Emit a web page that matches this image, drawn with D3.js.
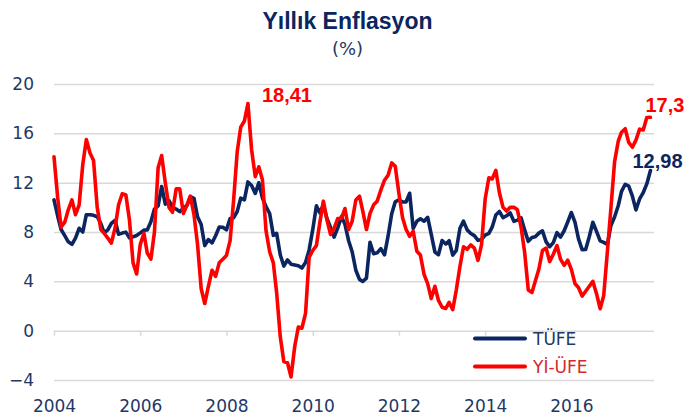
<!doctype html>
<html lang="tr">
<head>
<meta charset="utf-8">
<title>Yıllık Enflasyon</title>
<script src="https://cdn.jsdelivr.net/npm/d3@7"></script>
<style>
  body { margin: 0; background: #fff; }
  svg { display: block; }
  .grid line { stroke: #d9d9d9; stroke-width: 1.5px; }
  .tick text { font-family: "DejaVu Sans", sans-serif; font-size: 17px; fill: #1f3864; }
</style>
</head>
<body>
<svg id="chart" width="689" height="416"></svg>
<script>
// monthly series, Jan 2004 .. Nov 2017
const tufe = [
  10.6, 9.3, 8.2, 7.7, 7.2, 7.0, 7.5, 8.3, 8.0, 9.4, 9.4, 9.35,
  9.24, 8.69, 7.94, 8.18, 8.70, 8.95, 7.82, 7.91, 7.99, 7.52, 7.61, 7.72,
  7.93, 8.15, 8.16, 8.83, 9.86, 10.12, 11.69, 10.26, 10.55, 9.98, 9.86, 9.65,
  9.93, 10.16, 10.86, 10.72, 9.23, 8.60, 6.90, 7.39, 7.12, 7.70, 8.40, 8.39,
  8.17, 9.10, 9.15, 9.66, 10.74, 10.61, 12.06, 11.77, 11.13, 11.99, 10.76, 10.06,
  9.50, 7.73, 7.89, 6.13, 5.24, 5.73, 5.39, 5.33, 5.27, 5.08, 5.53, 6.53,
  8.19, 10.13, 9.56, 10.19, 9.10, 8.37, 7.58, 8.33, 9.24, 8.62, 7.29, 6.40,
  4.90, 4.16, 3.99, 4.26, 7.17, 6.24, 6.31, 6.65, 6.15, 7.66, 9.48, 10.45,
  10.61, 10.43, 10.43, 11.14, 8.28, 8.87, 9.07, 8.88, 9.19, 7.80, 6.37, 6.16,
  7.31, 7.03, 7.29, 6.13, 6.51, 8.30, 8.88, 8.17, 7.88, 7.71, 7.32, 7.40,
  7.75, 7.89, 8.39, 9.38, 9.66, 9.16, 9.32, 9.54, 8.86, 8.96, 9.15, 8.17,
  7.24, 7.55, 7.61, 7.91, 8.09, 7.20, 6.81, 7.14, 7.95, 7.58, 8.10, 8.81,
  9.58, 8.78, 7.46, 6.57, 6.58, 7.64, 8.79, 8.05, 7.28, 7.16, 7.00, 8.53,
  9.22, 10.13, 11.29, 11.87, 11.72, 10.90, 9.79, 10.68, 11.20, 11.90, 12.98
];
const yiufe = [
  14.1, 10.8, 8.4, 8.8, 9.8, 10.6, 9.4, 10.2, 13.5, 15.5, 14.4, 13.8,
  10.0, 8.2, 7.9, 7.5, 7.1, 8.3, 10.2, 11.1, 11.0, 9.0, 5.5, 4.6,
  7.0, 7.9, 6.3, 5.8, 8.0, 13.2, 14.2, 12.0, 10.0, 9.6, 11.5, 11.5,
  9.5, 10.2, 10.9, 9.4, 7.0, 3.4, 2.2, 3.6, 4.9, 4.4, 5.5, 5.8,
  6.1, 7.3, 10.5, 14.5, 16.5, 17.0, 18.41, 14.67, 12.49, 13.29, 12.21, 8.11,
  6.4, 5.5, 3.1, -0.5, -2.5, -2.6, -3.75, -1.3, 0.3, 0.2, 1.4, 5.93,
  6.5, 6.9, 8.7, 10.5, 9.0, 7.8, 8.3, 9.1, 9.1, 9.9, 8.2, 8.87,
  10.6, 10.9, 9.7, 8.2, 9.5, 10.2, 10.5, 11.4, 12.2, 12.6, 13.6, 13.33,
  11.13, 9.15, 8.22, 7.65, 8.06, 6.44, 6.13, 4.56, 3.8, 2.6, 3.6, 2.45,
  1.9, 1.8, 2.3, 1.7, 3.3, 5.2, 6.8, 6.6, 6.95, 6.7, 5.7, 6.97,
  10.7, 12.4, 12.3, 13.0, 11.2, 10.0, 9.7, 10.0, 10.0, 9.8, 8.4, 6.36,
  3.3, 3.1, 4.0, 5.0, 6.5, 6.7, 5.6, 6.2, 6.9, 5.8, 5.3, 5.71,
  4.97, 3.8, 3.5, 2.8, 3.2, 3.6, 4.0, 3.0, 1.78, 2.84, 6.41, 9.94,
  13.69, 15.36, 16.09, 16.37, 15.26, 14.87, 15.45, 16.34, 16.28, 17.28, 17.30
];
const yTicks = [-4, 0, 4, 8, 12, 16, 20];
const yearTicks = [2004, 2006, 2008, 2010, 2012, 2014, 2016];
const seriesNames = ["TÜFE", "Yİ-ÜFE"];
const colors = ["#0b2560", "#ff0000"];

const svg = d3.select("#chart");
const month = i => new Date(2004, i, 1);

const x = d3.scaleTime().domain([new Date(2004, 0, 1), new Date(2017, 11, 1)]).range([54, 654]);
const y = d3.scaleLinear().domain([-4, 20]).range([380, 84]);

svg.append("rect").attr("width", 689).attr("height", 416).attr("fill", "#fff");

// title
svg.append("text").attr("x", 347.5).attr("y", 28.5).attr("text-anchor", "middle")
  .attr("font-family", "'Liberation Sans', Arial, sans-serif").attr("font-weight", "bold")
  .attr("font-size", 23).attr("fill", "#0b2560").text("Yıllık Enflasyon");
svg.append("text").attr("x", 347.5).attr("y", 55).attr("text-anchor", "middle")
  .attr("font-family", "'DejaVu Sans', sans-serif").attr("font-size", 18)
  .attr("fill", "#1f3864").text("(%)");

// gridlines + y labels
const gy = svg.append("g").attr("class", "grid").attr("transform", "translate(54,0)")
  .call(d3.axisLeft(y).tickValues(yTicks).tickSize(-600).tickPadding(20));
gy.select(".domain").remove();

// tick marks on the zero line
const gx = svg.append("g").attr("class", "grid").attr("transform", `translate(0,${y(0)})`)
  .call(d3.axisBottom(x).tickValues(yearTicks.map(v => new Date(v, 0, 1))).tickSize(5).tickFormat(""));
gx.select(".domain").remove();

// year labels at the bottom
const gl = svg.append("g").attr("transform", `translate(0,${y(-4)})`)
  .call(d3.axisBottom(x).tickValues(yearTicks.map(v => new Date(v, 0, 1))).tickSize(0).tickPadding(19.5)
    .tickFormat(d3.timeFormat("%Y")));
gl.select(".domain").remove();

const line = d3.line().x((d, i) => x(month(i))).y(d => y(d));
[tufe, yiufe].forEach((s, k) => {
  svg.append("path").datum(s).attr("d", line).attr("fill", "none")
    .attr("stroke", colors[k]).attr("stroke-width", 3.6)
    .attr("stroke-linejoin", "round").attr("stroke-linecap", "round");
});

// value labels
const lab = (txt, px, py, col) => svg.append("text").attr("x", px).attr("y", py)
  .attr("font-family", "'Liberation Sans', Arial, sans-serif").attr("font-weight", "bold")
  .attr("font-size", 20).attr("fill", col).text(txt);
const last = tufe.length - 1;
lab("18,41", x(month(54)) + 14, y(18.41) - 2, colors[1]);
lab("17,3", x(month(last)) - 5, y(yiufe[last]) - 5, colors[1]);
lab("12,98", x(month(last)) - 18, y(tufe[last]) - 2.5, "#0b2560");

// legend
const leg = svg.append("g");
seriesNames.forEach((n, k) => {
  const ly = 338.5 + k * 28;
  leg.append("line").attr("x1", 475).attr("x2", 525).attr("y1", ly).attr("y2", ly)
    .attr("stroke", colors[k]).attr("stroke-width", 4).attr("stroke-linecap", "round");
  leg.append("text").attr("x", 533).attr("y", ly).attr("dy", "0.36em")
    .attr("font-family", "'DejaVu Sans', sans-serif").attr("font-size", 17)
    .attr("fill", k === 0 ? "#1f3864" : "#d42a2a").text(n);
});
</script>
</body>
</html>
